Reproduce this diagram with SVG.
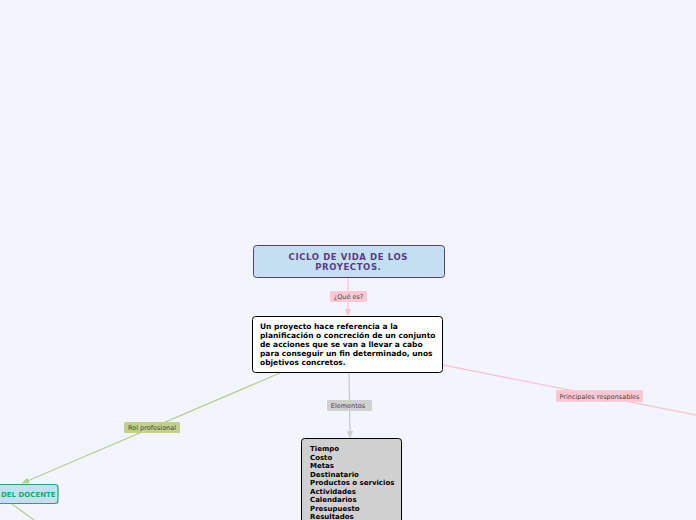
<svg xmlns="http://www.w3.org/2000/svg" width="696" height="520" viewBox="0 0 696 520">
<defs>
<style>
.t{font-family:"DejaVu Sans",Verdana,sans-serif;font-weight:bold;font-size:7px;fill:#000}
.t2{font-family:"DejaVu Sans",Verdana,sans-serif;font-weight:bold;font-size:7.5px;fill:#000}
.lb{font-family:"DejaVu Sans",Verdana,sans-serif;font-size:6.5px;fill:#444}
.ttl{font-family:"DejaVu Sans",Verdana,sans-serif;font-weight:bold;font-size:8.5px;letter-spacing:0.6px;fill:#5b3b82}
</style>
<marker id="ap" viewBox="0 0 10 10" refX="5" refY="5" markerWidth="6" markerHeight="6" orient="auto"><path d="M0,1 L10,5 L0,9 z" fill="#f9c4d2"/></marker>
<marker id="ag" viewBox="0 0 10 10" refX="5" refY="5" markerWidth="6" markerHeight="6" orient="auto"><path d="M0,1 L10,5 L0,9 z" fill="#cccccc"/></marker>
<marker id="agr" viewBox="0 0 10 10" refX="5" refY="5" markerWidth="6" markerHeight="6" orient="auto"><path d="M0,1 L10,5 L0,9 z" fill="#b9cf8e"/></marker>
</defs>
<rect width="696" height="520" fill="#f3f5fe"/>
<g id="connectors" fill="none" stroke-width="1.3">
<line x1="348" y1="278" x2="348" y2="313" stroke="#f9c4d2" marker-end="url(#ap)"/>
<line x1="349" y1="372" x2="350" y2="435" stroke="#cccccc" marker-end="url(#ag)"/>
<line x1="280" y1="373" x2="25" y2="482" stroke="#b9cf8e" marker-end="url(#agr)"/>
<line x1="12" y1="504" x2="34" y2="520" stroke="#b9cf8e"/>
<line x1="443" y1="365" x2="696" y2="415" stroke="#f9c4d2"/>
<rect x="330" y="291" width="37" height="11" rx="1.5" fill="#f9c8d4" stroke="none"/>
<text x="348.5" y="299" class="lb" text-anchor="middle" stroke="none">¿Qué es?</text>
<rect x="327" y="400" width="45" height="11" rx="1.5" fill="#d0d0d0" stroke="none"/>
<text x="348" y="408" class="lb" text-anchor="middle" stroke="none">Elementos</text>
<rect x="124" y="422" width="56" height="11" rx="1.5" fill="#c2d18a" stroke="none"/>
<text x="152" y="430" class="lb" text-anchor="middle" stroke="none">Rol profesional</text>
<rect x="556" y="390" width="87" height="12" rx="1.5" fill="#f9c8d4" stroke="none"/>
<text x="599.5" y="398.5" class="lb" text-anchor="middle" stroke="none">Principales responsables</text>
</g>
<g id="n-title">
<rect x="253.5" y="245.5" width="191" height="32" rx="3" fill="#c5dff2" stroke="#5b3b82" stroke-width="1"/>
<text x="348.3" y="259.5" class="ttl" text-anchor="middle">CICLO DE VIDA DE LOS</text>
<text x="348.3" y="270" class="ttl" text-anchor="middle">PROYECTOS.</text>
</g>
<g id="n-def">
<rect x="252.5" y="316.5" width="190" height="56" rx="3" fill="#ffffff" stroke="#000" stroke-width="1"/>
<text class="t2"><tspan x="260" y="329">Un proyecto hace referencia a la</tspan><tspan x="260" y="338">planificación o concreción de un conjunto</tspan><tspan x="260" y="347">de acciones que se van a llevar a cabo</tspan><tspan x="260" y="356">para conseguir un fin determinado, unos</tspan><tspan x="260" y="365">objetivos concretos.</tspan></text>
</g>
<g id="n-elem">
<rect x="301.5" y="438.5" width="100" height="90" rx="3" fill="#d0d0d0" stroke="#000" stroke-width="1"/>
<text class="t"><tspan x="310" y="451">Tiempo</tspan><tspan x="310" y="459.5">Costo</tspan><tspan x="310" y="468">Metas</tspan><tspan x="310" y="476.5">Destinatario</tspan><tspan x="310" y="485">Productos o servicios</tspan><tspan x="310" y="493.5">Actividades</tspan><tspan x="310" y="502">Calendarios</tspan><tspan x="310" y="510.5">Presupuesto</tspan><tspan x="310" y="519">Resultados</tspan></text>
</g>
<g id="n-docente">
<rect x="-40" y="484.5" width="98" height="19" rx="3" fill="#c5dff2" stroke="#1aab6e" stroke-width="1.2"/>
<text x="1" y="496.5" class="ttl" style="fill:#1aab6e;font-size:7px;letter-spacing:0px">DEL DOCENTE</text>
</g>
</svg>
